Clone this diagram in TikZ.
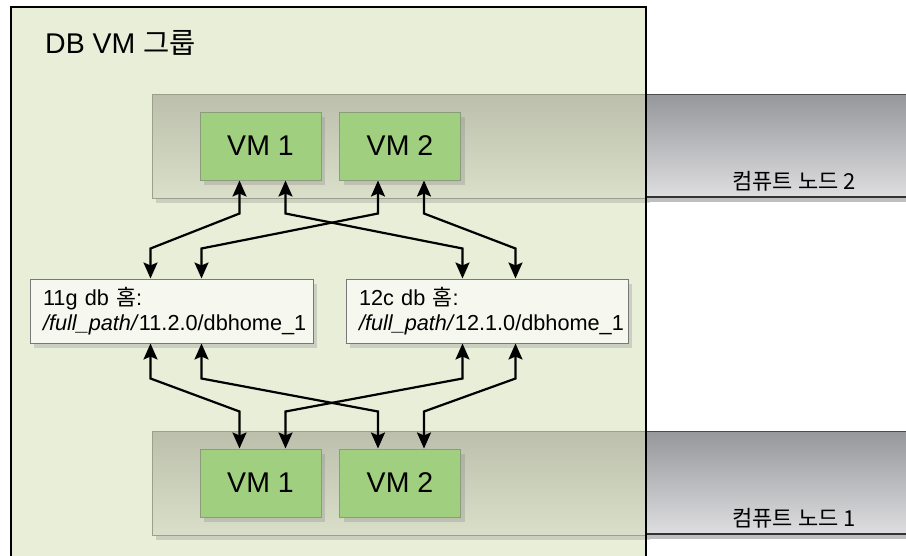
\documentclass[tikz,border=0pt]{standalone}
\usepackage{fontspec}
\setmainfont{Liberation Sans}
\newfontfamily\kr{Noto Sans CJK KR}
\usetikzlibrary{shadows,arrows.meta,calc}
\definecolor{framefill}{RGB}{233,238,217}
\definecolor{bandtop}{RGB}{187,191,171}
\definecolor{bandbot}{RGB}{218,223,202}
\definecolor{bandline}{RGB}{155,160,140}
\definecolor{graytop}{RGB}{150,151,155}
\definecolor{graybot}{RGB}{222,222,224}
\definecolor{vmfill}{RGB}{160,207,128}
\definecolor{vmborder}{RGB}{138,156,124}
\definecolor{dbfill}{RGB}{246,248,239}
\definecolor{dbborder}{RGB}{120,120,120}
\begin{document}
\begin{tikzpicture}[x=1pt,y=-1pt,
  shad/.style={drop shadow={shadow xshift=4pt,shadow yshift=-5pt,opacity=0.28}},
  vmbox/.style={shad,draw=vmborder,line width=1pt,fill=vmfill,minimum width=121pt,minimum height=68pt,inner sep=0pt,font=\fontsize{28.5}{32}\selectfont},
  dbbox/.style={shad,draw=dbborder,line width=1pt,fill=dbfill,minimum height=64pt,inner xsep=13pt,inner ysep=0pt,align=left,font=\fontsize{21.7}{25.5}\selectfont},
  cnlabel/.style={font=\kr\fontsize{22}{24}\selectfont,inner sep=0pt},
  arr/.style={line width=2.2pt,{Stealth[width=14pt,length=16pt,inset=3pt]}-{Stealth[width=14pt,length=16pt,inset=3pt]}}
]
\clip (0,0) rectangle (906,555);
\fill[white] (0,0) rectangle (906,555);
% outer group frame fill
\fill[framefill] (11,7) rectangle (646,565);
% compute node bands (inside frame)
\draw[shad,bandline,line width=1pt,top color=bandtop,bottom color=bandbot] (152,94) rectangle (646,198);
\draw[shad,bandline,line width=1pt,top color=bandtop,bottom color=bandbot] (152,431) rectangle (646,535);
% compute node bands (outside frame)
\shade[top color=graytop,bottom color=graybot] (646,94) rectangle (906,197);
\draw[black!70,line width=1pt] (646,94) -- (906,94);
\fill[black!25] (646,198) rectangle (906,202);
\draw[black!80,line width=2pt] (646,197) -- (906,197);
\shade[top color=graytop,bottom color=graybot] (646,431) rectangle (906,534);
\draw[black!70,line width=1pt] (646,431) -- (906,431);
\fill[black!25] (646,535) rectangle (906,539);
\draw[black!80,line width=2pt] (646,534) -- (906,534);
% frame border
\draw[black,line width=2.5pt] (11,565) -- (11,7) -- (646,7) -- (646,565);
% title
\node[anchor=base west,inner sep=0pt,font=\fontsize{28.5}{32}\selectfont] (title) at (45,53) {DB VM {\kr 그룹}};
% labels of compute nodes
\node[cnlabel] (cn2) at (794,181) {컴퓨트 노드 2};
\node[cnlabel] (cn1) at (794,518) {컴퓨트 노드 1};
% VMs
\node[vmbox] (vm1t) at (260.5,146) {VM 1};
\node[vmbox] (vm2t) at (400,146) {VM 2};
\node[vmbox] (vm1b) at (260.5,483) {VM 1};
\node[vmbox] (vm2b) at (400,483) {VM 2};
% DB homes
\node[dbbox,minimum width=283pt,text width=257pt] (dbl) at (171.5,311) {11g db {\kr 홈}:\\\textit{/full\_path/}11.2.0/dbhome\_1};
\node[dbbox,minimum width=282pt,text width=256pt] (dbr) at (487,311) {12c db {\kr 홈}:\\\textit{/full\_path/}12.1.0/dbhome\_1};
% upper connectors
\draw[arr] ([xshift=40pt]vm1t.south west) -- ++(0,33) -- ([xshift=121pt,yshift=30pt]dbl.north west) -- ([xshift=121pt]dbl.north west);
\draw[arr] ([xshift=86pt]vm1t.south west) -- ++(0,33) -- ([xshift=117pt,yshift=30pt]dbr.north west) -- ([xshift=117pt]dbr.north west);
\draw[arr] ([xshift=39pt]vm2t.south west) -- ++(0,33) -- ([xshift=172pt,yshift=30pt]dbl.north west) -- ([xshift=172pt]dbl.north west);
\draw[arr] ([xshift=85pt]vm2t.south west) -- ++(0,33) -- ([xshift=170pt,yshift=30pt]dbr.north west) -- ([xshift=170pt]dbr.north west);
% lower connectors
\draw[arr] ([xshift=121pt]dbl.south west) -- ++(0,35) -- ([xshift=40pt,yshift=37pt]vm1b.north west) -- ([xshift=40pt]vm1b.north west);
\draw[arr] ([xshift=172pt]dbl.south west) -- ++(0,35) -- ([xshift=39pt,yshift=37pt]vm2b.north west) -- ([xshift=39pt]vm2b.north west);
\draw[arr] ([xshift=117pt]dbr.south west) -- ++(0,35) -- ([xshift=86pt,yshift=37pt]vm1b.north west) -- ([xshift=86pt]vm1b.north west);
\draw[arr] ([xshift=170pt]dbr.south west) -- ++(0,35) -- ([xshift=85pt,yshift=37pt]vm2b.north west) -- ([xshift=85pt]vm2b.north west);
\end{tikzpicture}
\end{document}
